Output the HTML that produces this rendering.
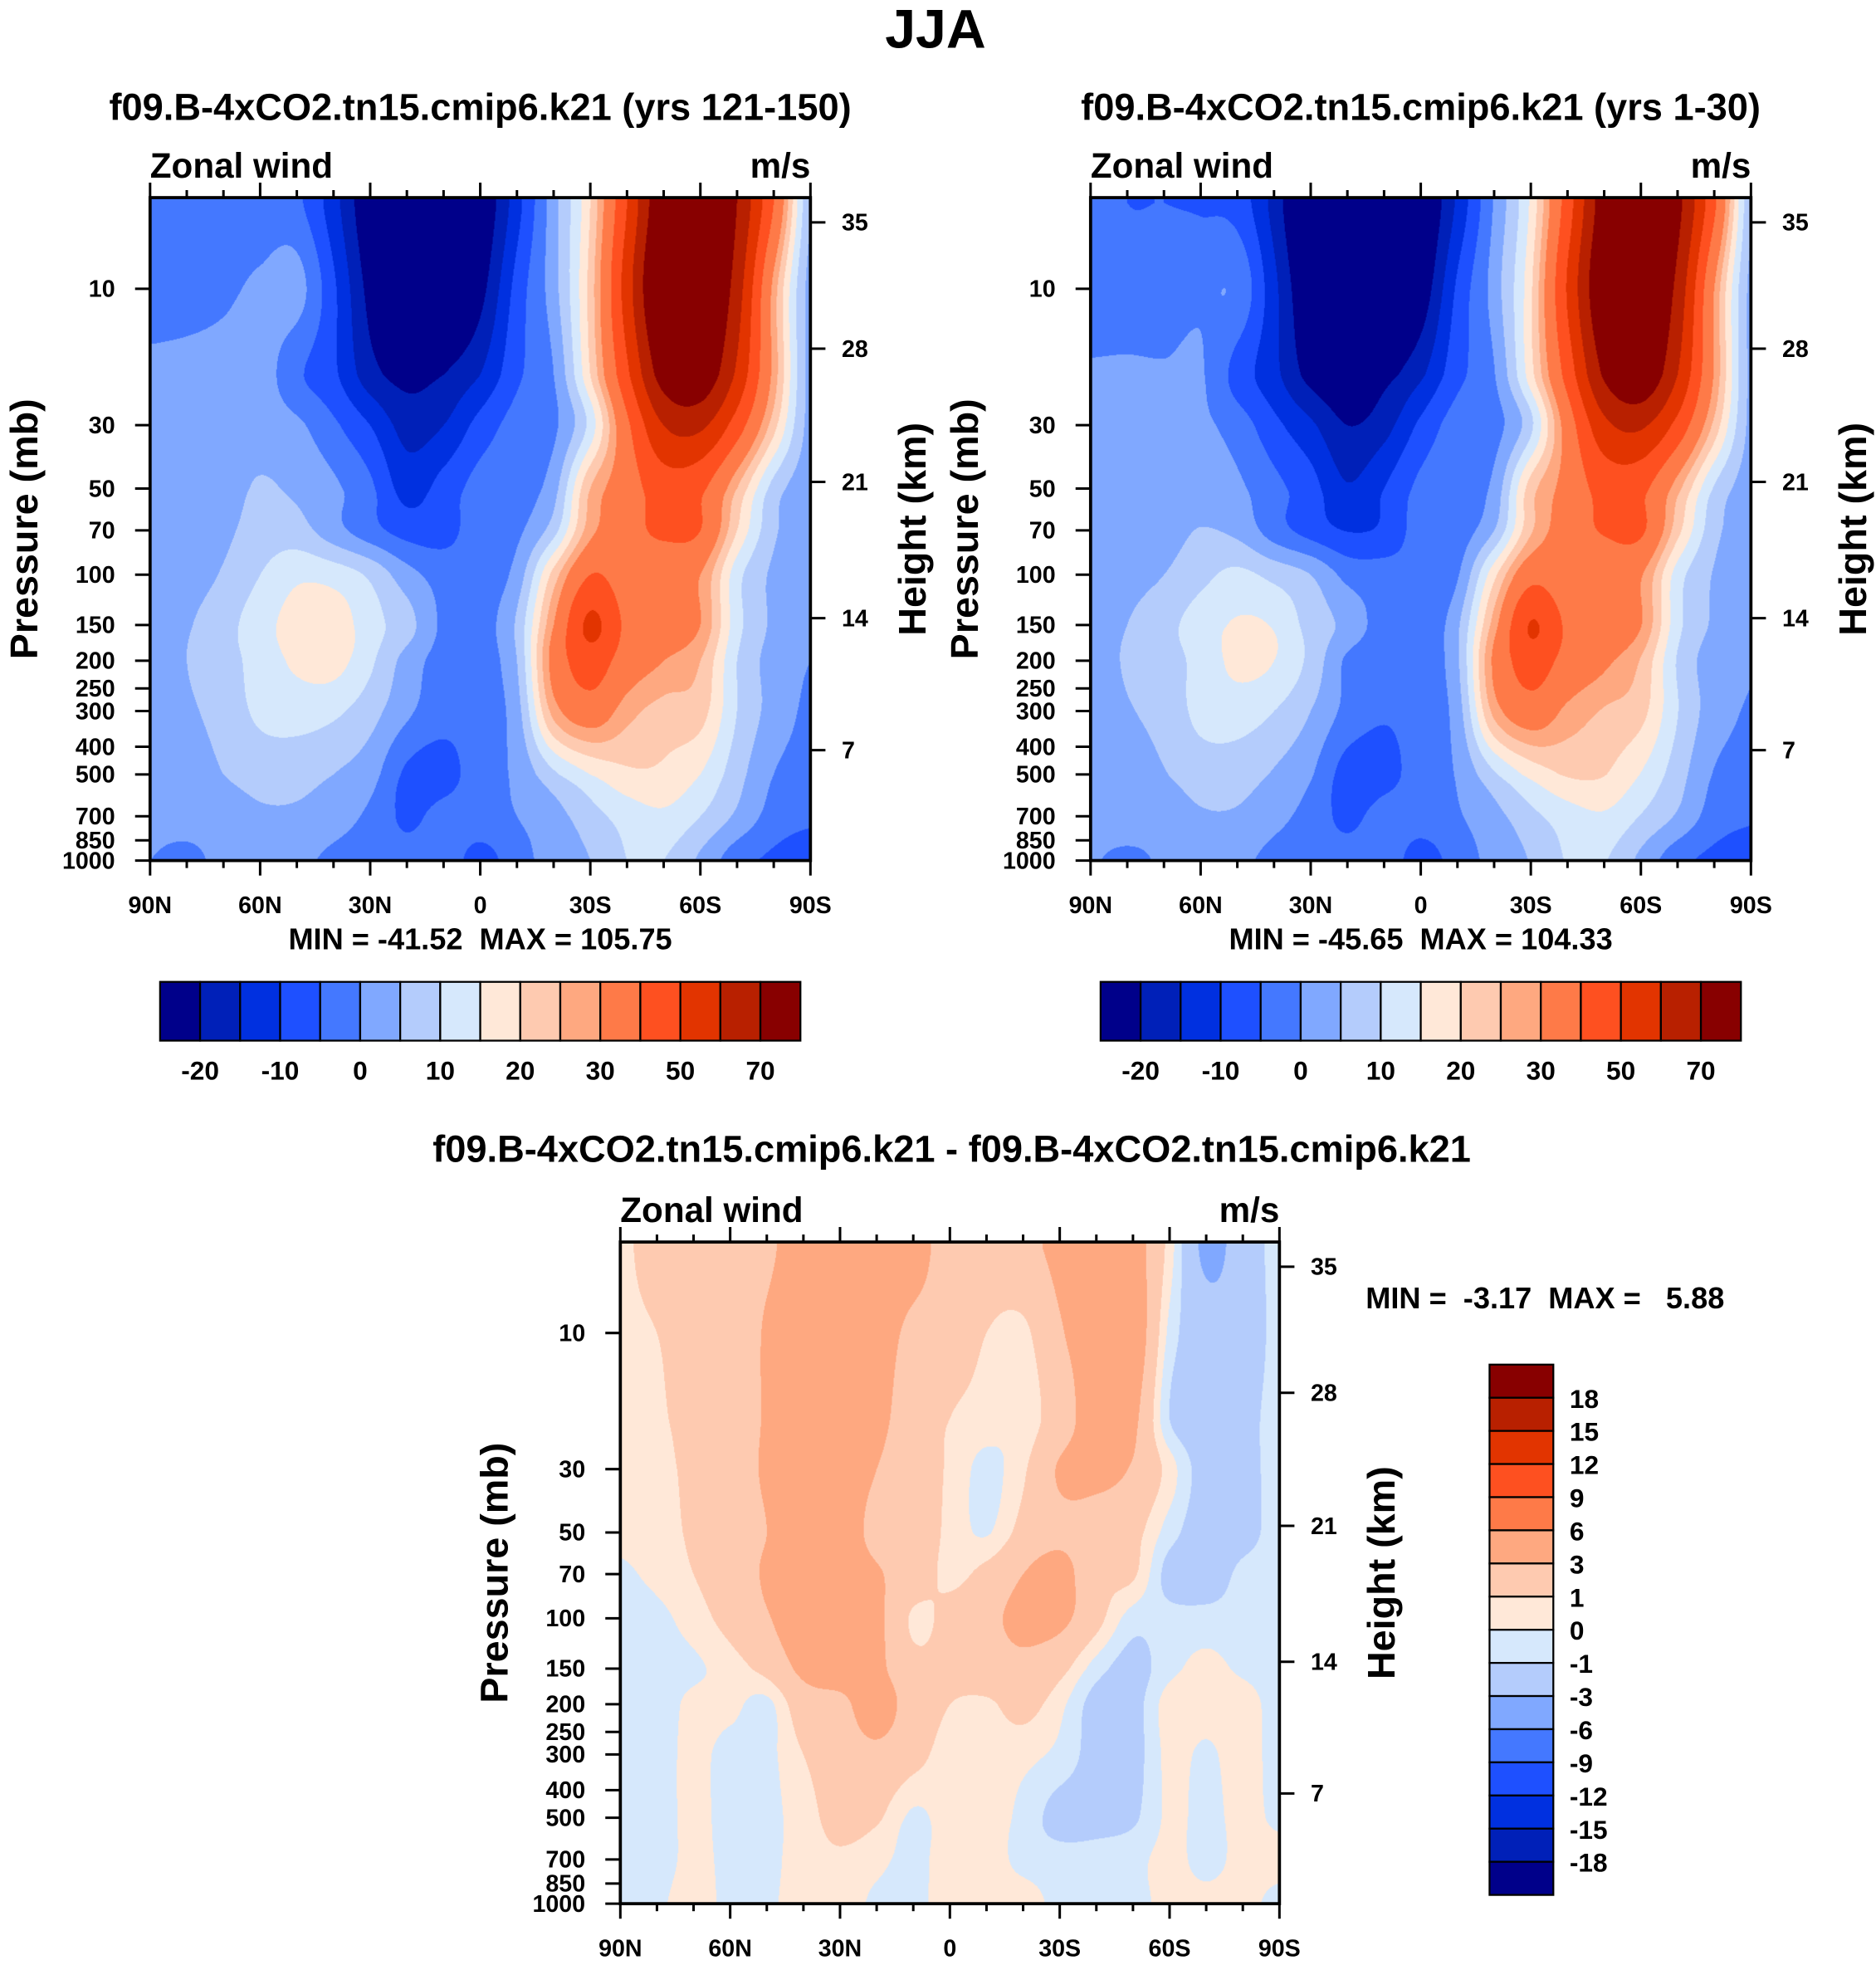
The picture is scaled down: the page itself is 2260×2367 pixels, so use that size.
<!DOCTYPE html>
<html><head><meta charset="utf-8"><style>
body{margin:0;background:#fff;width:2260px;height:2367px;overflow:hidden}
#wrap{position:absolute;left:0;top:0;width:1500px;height:1571px;transform:scale(1.506667);transform-origin:0 0;font-family:"Liberation Sans",sans-serif;font-weight:bold}
canvas{position:absolute}
svg{position:absolute;left:0;top:0}
text{white-space:pre}
</style></head><body>
<div id="wrap">
<canvas id="c1" width="796" height="799" style="left:120px;top:158px;width:528px;height:530px"></canvas>
<canvas id="c2" width="796" height="799" style="left:872px;top:158px;width:528px;height:530px"></canvas>
<canvas id="c3" width="796" height="799" style="left:496px;top:993px;width:527px;height:529px"></canvas>
<svg id="ov" width="1500" height="1571" xmlns="http://www.w3.org/2000/svg"></svg>
</div>
<script>
// ---- data ----
const lats = ['90N','80N','70N','60N','50N','40N','30N','20N','10N','0','10S','20S','30S','40S','50S','60S','70S','80S','90S'];
const plevs = [5,10,20,30,50,70,100,150,200,300,500,700,1000];
const windA = [
[-3,-3,-3,-3,-4,-13,-25,-32,-30,-25,-12,3,20,50,80,85,70,40,5],
[-2,-2,-1,1,2,-9,-22,-30,-30,-22,-8,3,22,55,85,85,65,28,3],
[1,1.5,2,2.5,-4,-9,-18,-22,-20,-15,-6,0,20,48,75,78,58,28,3],
[2,2,2.5,3,1,-4,-10,-17,-15,-8,-3,-1,12,38,60,62,45,22,3],
[2,2.5,3,5.5,4,1,-4,-12,-8,-3,-2,3,25,35,45,42,25,8,2],
[2,3,4,7,7,2,-3,-7,-7,-2,-1,8,28,36,42,40,20,6,2],
[1,3,5.5,10,14,13,9,2,-2,-2,2,22,40,35,33,30,12,4,1],
[2,4.5,8,13,17,18,12,7,-1,-2,6,30,52,38,35,30,12,4,1],
[2,5,8,12,16,17,11,3,-2,-2,5,33,45,35,30,25,10,3,0],
[1,4,7,11,12,11,7,1,-3,-2,3,27,35,27,23,22,10,3,-1],
[1,2,5,7,7,5,2,-6,-7,-2,1,9,15,19,19,15,7,0,-2],
[1,1.5,2,4,4,2,-1,-6,-3,-2,0,3,8,12,14,10,4,-2,-4],
[0,-1,1,1,1,-1,-2,-3,-2,-7,-2,2,5,10,10,4,-3,-6,-8]];
const windB = [
[-3.5,-5,-5,-5.5,-7,-17,-30,-36,-34,-27,-14,0.5,16,45,76,84,73,42,5.5],
[-2.5,-3,-3,-1,-1,-13.5,-26.5,-34,-32.5,-24,-9,2.3,19,51,80,85,67,30,3.5],
[0.5,0.7,0.5,0.5,-7,-13.5,-22,-25.5,-22,-16,-6.5,-0.3,18,44,71.5,79,60,29.5,3.5],
[1.5,1.3,1.2,1,-2.3,-8.5,-14,-20,-17,-8.8,-2.7,-1.8,8.8,34.4,57.2,61.5,46.7,23.5,3.5],
[1.7,1.9,1.8,3.5,1,-3.5,-8,-14.5,-10,-3.7,-1.9,1.5,22.5,33,43.5,42.5,26.8,9.5,2.5],
[2.2,2.7,3,5.2,3.7,-2.5,-7,-10.2,-9,-2.7,-2.5,5,24.2,34.5,40.8,41.5,21.8,6.7,2.5],
[1.5,3.3,5,8.5,11.2,8.5,5,-1.5,-2.8,-3.5,-0.5,18.5,36.5,33.5,33.5,30.6,12.6,4.6,1.5],
[2.5,5,8.2,12.5,15.5,14.5,8,3.5,-2.5,-3.5,4,27.5,50.5,38.5,36.5,30.3,11.7,4.2,1.5],
[2.5,5.6,7.7,11.7,16.3,15,8.5,-1,-4,-3,4.2,31.5,44.7,36.5,31.5,24.5,9.5,2.5,0.5],
[1.5,4.5,6.7,11.4,12.3,10,5,-1.5,-4.5,-2.5,2.5,26.7,35.3,28.5,24.5,21.7,10.2,2.5,-0.5],
[1.5,2.5,4.7,7.4,7.3,4.5,0.5,-7.2,-6.8,-2.5,0.5,9.3,16.5,20.5,20.2,14.8,7.3,-0.3,-1.8],
[1.5,2,1.7,4.3,4.3,1.5,-1.8,-6.3,-2.7,-2.5,-0.5,3.3,8.5,12.5,14.3,9.7,4.3,-2.3,-4.3],
[0.3,-0.8,0.5,1.3,1.2,-1.5,-2.5,-2.8,-1.7,-7.5,-2.5,1.5,5.3,10.3,10.3,3.7,-3.3,-6.3,-7.7]];
const windDiff = [
[0.5,2,2,2.5,2.7,4,4.5,4.5,4,2,2,2.5,3.5,4.5,4,0.5,-3.5,-2,-0.5],
[0.5,1,2,2,3.2,4.5,4.5,4,2.5,2,1,0.7,2.8,4,4.5,-0.3,-2,-2,-0.5],
[0.5,0.8,1.5,2,3.2,4.5,4,3.5,2,1,0.5,0.3,2,4,3.5,-1,-2,-1.5,-0.5],
[0.5,0.7,1.3,2,3.3,4.5,4,3,2,0.8,-0.3,0.8,3.2,3.6,2.8,0.5,-1.7,-1.5,-0.5],
[0.3,0.6,1.2,2,3,4.5,4,2.5,2,0.7,-0.1,1.5,2.5,2,1.5,-0.5,-1.8,-1.5,-0.5],
[-0.2,0.3,1,1.8,3.3,4.5,4,3.2,2,0.7,1.5,3,3.8,1.5,1.2,-1.5,-1.8,-0.7,-0.5],
[-0.5,-0.3,0.5,1.5,2.8,4.5,4,3.5,0.8,1.5,2.5,3.5,3.5,1.5,-0.5,-0.6,-0.6,-0.6,-0.5],
[-0.5,-0.5,-0.2,0.5,1.5,3.5,4,3.5,1.5,1.5,2,2.5,1.5,-0.5,-1.5,-0.3,0.3,-0.2,-0.5],
[-0.5,-0.6,0.3,0.3,-0.3,2,2.5,4,2,1,0.8,1.5,0.3,-1.5,-1.5,0.5,0.5,0.5,-0.5],
[-0.5,-0.5,0.3,-0.4,-0.3,1,2,2.5,1.5,0.5,0.5,0.3,-0.3,-1.5,-1.5,0.3,-0.2,0.5,-0.5],
[-0.5,-0.5,0.3,-0.4,-0.3,0.5,1.5,1.2,-0.2,0.5,0.5,-0.3,-1.5,-1.5,-1.2,0.2,-0.3,0.3,-0.2],
[-0.5,-0.5,0.3,-0.3,-0.3,0.5,0.8,0.3,-0.3,0.5,0.5,-0.3,-0.5,-0.5,-0.3,0.3,-0.3,0.3,0.3],
[-0.3,-0.2,0.5,-0.3,-0.2,0.5,0.5,-0.2,-0.3,0.5,0.5,0.5,-0.3,-0.3,-0.3,0.3,0.3,0.3,-0.3]];
const windLevels = [-20,-15,-10,-5,0,5,10,15,20,25,30,40,50,60,70];
const windLabels = ['-20','-10','0','10','20','30','50','70'];
const diffLevels = [-18,-15,-12,-9,-6,-3,-1,0,1,3,6,9,12,15,18];
const diffLabels = ['18','15','12','9','6','3','1','0','-1','-3','-6','-9','-12','-15','-18'];
const palette = ['#00008a','#0020b8','#0030e0','#1e50ff','#4478ff','#80a8ff','#b4ccfc','#d6e8fc','#ffe8d8','#fecab0','#fea880','#fe7a48','#fe5020','#e23400','#b82000','#880000'];
const pTicks = [10,30,50,70,100,150,200,250,300,400,500,700,850,1000];
const hTicks = ['35','28','21','14','7'];
const hTickP = [5.86,16.2,47.4,142,411];
const xTicks = ['90N','60N','30N','0','30S','60S','90S'];

// ---- scales ----
const PTOP = 4.8, PBOT = 1000;
function yFrac(p){ return (Math.log(p)-Math.log(PTOP))/(Math.log(PBOT)-Math.log(PTOP)); }
function rowIndex(p){
  const lp = Math.log(p);
  if (p <= plevs[0]) return 0;
  for (let i=0;i<plevs.length-1;i++){
    const a=Math.log(plevs[i]), b=Math.log(plevs[i+1]);
    if (lp<=b) return i+(lp-a)/(b-a);
  }
  return plevs.length-1;
}
function cr(p0,p1,p2,p3,t){
  return 0.5*((2*p1)+(-p0+p2)*t+(2*p0-5*p1+4*p2-p3)*t*t+(-p0+3*p1-3*p2+p3)*t*t*t);
}
function sample(g,r,c){
  const nr=g.length, nc=g[0].length;
  const r0=Math.floor(r), c0=Math.floor(c), tr=r-r0, tc=c-c0;
  const rows=[];
  for (let k=-1;k<=2;k++){
    const ri=Math.min(nr-1,Math.max(0,r0+k)); const row=g[ri];
    const v=[]; for (let m=-1;m<=2;m++){ v.push(row[Math.min(nc-1,Math.max(0,c0+m))]); }
    rows.push(cr(v[0],v[1],v[2],v[3],tc));
  }
  return cr(rows[0],rows[1],rows[2],rows[3],tr);
}
function hex(h){ return [parseInt(h.substr(1,2),16),parseInt(h.substr(3,2),16),parseInt(h.substr(5,2),16)]; }
const palRGB = palette.map(hex);
function drawField(id,grid,levels){
  const cv=document.getElementById(id), ctx=cv.getContext('2d');
  const W=cv.width,H=cv.height, img=ctx.createImageData(W,H);
  const rowOf=[]; for(let y=0;y<H;y++){ const f=(y+0.5)/H; const p=Math.exp(Math.log(PTOP)+f*(Math.log(PBOT)-Math.log(PTOP))); rowOf.push(rowIndex(p)); }
  for(let y=0;y<H;y++){ for(let x=0;x<W;x++){
    const c=(x+0.5)/W*(lats.length-1);
    const v=sample(grid,rowOf[y],c);
    let k=0; while(k<levels.length && v>=levels[k]) k++;
    const col=palRGB[k], o=(y*W+x)*4;
    img.data[o]=col[0];img.data[o+1]=col[1];img.data[o+2]=col[2];img.data[o+3]=255;
  }}
  ctx.putImageData(img,0,0);
}
drawField('c1',windA,windLevels);
drawField('c2',windB,windLevels);
drawField('c3',windDiff,diffLevels);

// ---- overlay ----
const NS='http://www.w3.org/2000/svg', svg=document.getElementById('ov');
function el(tag,attrs,parent){ const e=document.createElementNS(NS,tag); for(const k in attrs) e.setAttribute(k,attrs[k]); (parent||svg).appendChild(e); return e; }
function txt(x,y,s,size,anchor,name,rot){
  const t=el('text',{x:x,y:y,'font-size':size,'text-anchor':anchor||'start','font-family':'"Liberation Sans",sans-serif','font-weight':'bold',fill:'#000'});
  if(rot) t.setAttribute('transform','rotate('+rot+' '+x+' '+y+')');
  t.textContent=s;
  
  
  return t;
}
function line(x1,y1,x2,y2,w,name){
  const l=el('line',{x1:x1,y1:y1,x2:x2,y2:y2,stroke:'#000','stroke-width':w});
  
  
  return l;
}
txt(748,38,'JJA',44,'middle','figure-title');

function panel(L,T,W,H,title,titleX,titleY,prefix){
  txt(titleX,titleY,title,30,'middle',prefix+'-title');
  txt(L,T-16,'Zonal wind',28,'start',prefix+'-variable-label');
  txt(L+W,T-16,'m/s',28,'end',prefix+'-units-label');
  const fr=el('rect',{x:L,y:T,width:W,height:H,fill:'none',stroke:'#000','stroke-width':2.5});
  
  
  pTicks.forEach(p=>{
    const y=T+yFrac(p)*H;
    line(L-12,y,L,y,2,prefix+'-pressure-tick');
    txt(L-28,y+6.5,String(p),19,'end',prefix+'-pressure-tick-label');
  });
  hTicks.forEach((h,i)=>{
    const y=T+yFrac(hTickP[i])*H;
    line(L+W,y,L+W+12,y,2,prefix+'-height-tick');
    txt(L+W+25,y+6.5,h,19,'start',prefix+'-height-tick-label');
  });
  for(let i=0;i<lats.length;i++){
    const x=L+i/(lats.length-1)*W, major=(i%3===0), len=major?12:6;
    line(x,T-len,x,T,2,prefix+'-top-lat-tick');
    line(x,T+H,x,T+H+len,2,prefix+'-bottom-lat-tick');
  }
  xTicks.forEach((s,i)=>{
    const x=L+i/(xTicks.length-1)*W;
    txt(x,T+H+42,s,19,'middle',prefix+'-lat-tick-label');
  });
  txt(L-90,T+H*0.5,'Pressure (mb)',31,'middle',prefix+'-y-axis-title',-90);
  txt(L+W+92,T+H*0.5,'Height (km)',31,'middle',prefix+'-right-axis-title',-90);
}
panel(120,158,528,530,'f09.B-4xCO2.tn15.cmip6.k21 (yrs 121-150)',384,96,'panel-a');
panel(872,158,528,530,'f09.B-4xCO2.tn15.cmip6.k21 (yrs 1-30)',1136,96,'panel-b');
panel(496,993,527,529,'f09.B-4xCO2.tn15.cmip6.k21 - f09.B-4xCO2.tn15.cmip6.k21',761,929,'panel-diff');

txt(384,759,'MIN = -41.52  MAX = 105.75',24,'middle','panel-a-min-max');
txt(1136,759,'MIN = -45.65  MAX = 104.33',24,'middle','panel-b-min-max');
txt(1092,1046,'MIN =  -3.17  MAX =   5.88',24,'start','panel-diff-min-max');

function hbar(L,T,W,H,prefix){
  const bw=W/palette.length;
  palette.forEach((c,i)=>{
    const r=el('rect',{x:L+i*bw,y:T,width:bw,height:H,fill:c,stroke:'#000','stroke-width':1.5});
    
    
  });
  windLabels.forEach((s,j)=>{
    const x=L+(1+2*j)*bw;
    txt(x,T+H+31,s,21,'middle',prefix+'-colorbar-label');
  });
}
hbar(128,785,512,47,'panel-a');
hbar(880,785,512,47,'panel-b');

(function vbar(L,T,W,H){
  const bh=H/palette.length;
  for(let i=0;i<palette.length;i++){
    const r=el('rect',{x:L,y:T+i*bh,width:W,height:bh,fill:palette[palette.length-1-i],stroke:'#000','stroke-width':1.5});
    
    
  }
  diffLabels.forEach((s,j)=>{
    txt(L+W+13,T+(j+1)*bh+8,s,21,'start','panel-diff-colorbar-label');
  });
})(1191,1091,51,424);
</script>
</body></html>
